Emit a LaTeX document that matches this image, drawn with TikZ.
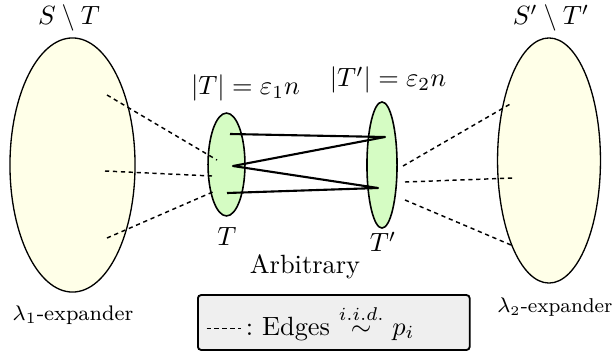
\documentclass[tikz,border=0pt]{standalone}
\usepackage{amsmath,amssymb}
\usepackage{tikz}
\usetikzlibrary{shapes.geometric, positioning}
\definecolor{expfill}{HTML}{FFFFE8}
\definecolor{subfill}{HTML}{D5FCC3}
\definecolor{keyfill}{HTML}{EFEFEF}
\tikzstyle{bigset} = [ellipse, draw=black, line width=0.5pt, fill=expfill, inner sep=0pt]
\tikzstyle{smallset} = [ellipse, draw=black, line width=0.6pt, fill=subfill, inner sep=0pt]
\tikzstyle{setlabel} = [inner sep=0pt, align=center]
\tikzstyle{keybox} = [rectangle, rounded corners=1.2pt, draw=black, line width=0.7pt, fill=keyfill, minimum height=20.8pt, inner xsep=3pt, text width=97pt, align=left, anchor=west]
\tikzstyle{randedge} = [line width=0.55pt, dash pattern=on 1.6pt off 1.4pt]
\tikzstyle{fixedge} = [line width=0.8pt, line join=round]

\begin{document}
\begin{tikzpicture}[x=0.379pt, y=-0.379pt]
            \useasboundingbox (0,0) rectangle (616,356);
            % Nodes
            \node (rest1) [bigset, minimum width=47.4pt, minimum height=96.3pt] at (72.5,165) {};
            \node (rest2) [bigset, minimum width=39pt, minimum height=92.9pt] at (549,160.5) {};
            \node (set1) [smallset, minimum width=14pt, minimum height=39pt] at (226.5,164.5) {};
            \node (set2) [smallset, minimum width=11.4pt, minimum height=47.8pt] at (382,165) {};

            \node (rest1name) [setlabel] at (69,18) {$S\setminus T$};
            \node (rest2name) [setlabel] at (551,18) {$S'\setminus T'$};
            \node (set1size) [setlabel] at (245.5,88) {$|T| = \varepsilon_1 n$};
            \node (set2size) [setlabel] at (388,80) {$|T'| = \varepsilon_2 n$};
            \node (set1name) [setlabel] at (227,236) {$T$};
            \node (set2name) [setlabel] at (383,242) {$T'$};
            \node (arb) [setlabel] at (305,267) {Arbitrary};
            \node (exp1) [setlabel] at (73,315) {\footnotesize $\lambda_1$-expander};
            \node (exp2) [setlabel, anchor=east] at (613,307) {\fontsize{7.6}{9}\selectfont $\lambda_2$-expander};

            \node (key) [keybox] at (197,322.5) {\tikz[baseline=-0.55ex]\draw[randedge] (0,0) -- (13pt,0);\,:\ Edges $\stackrel{i.i.d.}{\sim}$ $p_i$};

            % End points
            \coordinate (l1) at (107,95);
            \coordinate (l2) at (105,171);
            \coordinate (l3) at (107,238);
            \coordinate (m1) at (217,160);
            \coordinate (m2) at (212,176);
            \coordinate (m3) at (215,191);
            \coordinate (t1) at (230,134);
            \coordinate (t2) at (233,166);
            \coordinate (t3) at (227,193);
            \coordinate (u1) at (385,137);
            \coordinate (u2) at (378,188);
            \coordinate (n1) at (403,166);
            \coordinate (n2) at (405,182);
            \coordinate (n3) at (405,200);
            \coordinate (r1) at (512,103);
            \coordinate (r2) at (513,178);
            \coordinate (r3) at (511,245);

            % Edges
            \draw [randedge] (l1) -- (m1);
            \draw [randedge] (l2) -- (m2);
            \draw [randedge] (l3) -- (m3);
            \draw [randedge] (n1) -- (r1);
            \draw [randedge] (n2) -- (r2);
            \draw [randedge] (n3) -- (r3);
            \draw [fixedge] (t1) -- (u1) -- (t2) -- (u2) -- (t3);
\end{tikzpicture}
\end{document}
